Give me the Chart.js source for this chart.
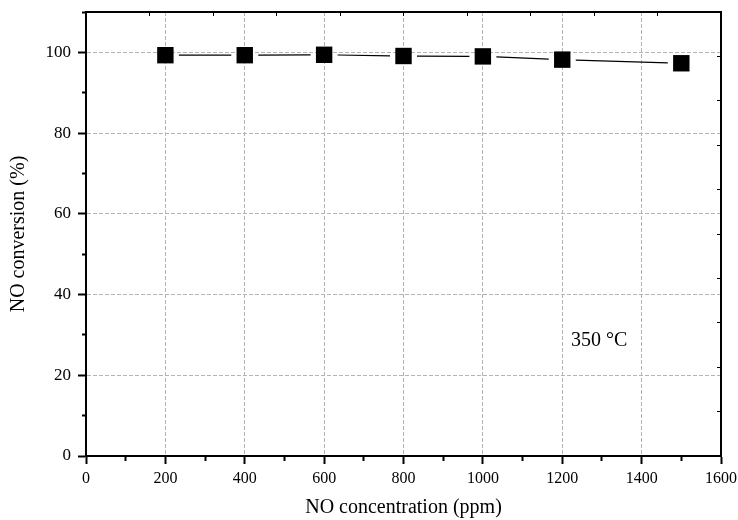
<!DOCTYPE html>
<html>
<head>
<meta charset="utf-8">
<script src="https://cdn.jsdelivr.net/npm/chart.js@4.4.1/dist/chart.umd.min.js"></script>
<style>
  html, body { margin: 0; padding: 0; background: #fff; }
</style>
</head>
<body>
<canvas id="myChart" width="738" height="520"></canvas>
<script>
// NO concentration (ppm) and NO conversion (%) at 350 °C
const concentrations = [200, 400, 600, 800, 1000, 1200, 1500];
const conversions = [99.3, 99.3, 99.4, 99.1, 99.0, 98.2, 97.3];

// labelled ticks
const xTickLabels = [0, 200, 400, 600, 800, 1000, 1200, 1400, 1600];
const yTickLabels = [0, 20, 40, 60, 80, 100];

const serif = "'Liberation Serif', 'Times New Roman', serif";

let points = concentrations.map((c, i) => ({ x: c, y: conversions[i] }));

// is the tick a labelled (major) one?
function isMajor(list, ctx) {
  return ctx.tick && list.includes(ctx.tick.value);
}

// line between the markers, with a gap near each square (Origin style)
const gapLines = {
  id: "gapLines",
  beforeDatasetsDraw(chart) {
    let meta = chart.getDatasetMeta(0);
    let ctx = chart.ctx;
    let gap = 13.5;
    ctx.save();
    ctx.strokeStyle = "#000";
    ctx.lineWidth = 1.2;
    for (let i = 0; i < meta.data.length - 1; i++) {
      let a = meta.data[i], b = meta.data[i + 1];
      let dx = b.x - a.x, dy = b.y - a.y;
      let len = Math.sqrt(dx * dx + dy * dy);
      let ux = dx / len, uy = dy / len;
      ctx.beginPath();
      ctx.moveTo(a.x + ux * gap, a.y + uy * gap);
      ctx.lineTo(b.x - ux * gap, b.y - uy * gap);
      ctx.stroke();
    }
    ctx.restore();
  },
};

// temperature label inside the plot
const tempLabel = {
  id: "tempLabel",
  afterDraw(chart) {
    let ctx = chart.ctx;
    ctx.save();
    ctx.font = "20px " + serif;
    ctx.fillStyle = "#000";
    ctx.textAlign = "left";
    ctx.textBaseline = "middle";
    ctx.fillText("350 °C", chart.scales.x.getPixelForValue(1222), chart.scales.y.getPixelForValue(28.5));
    ctx.restore();
  },
};

new Chart(document.getElementById("myChart").getContext("2d"), {
  type: "scatter",
  data: {
    datasets: [
      {
        data: points,
        pointStyle: "rect",
        pointRadius: 11.6,
        pointHoverRadius: 11.6,
        backgroundColor: "#000",
        borderColor: "#000",
        borderWidth: 0,
        showLine: false,
      },
    ],
  },
  options: {
    responsive: false,
    animation: false,
    devicePixelRatio: 1,
    layout: { padding: { top: 12, right: 17, left: 0, bottom: 0 } },
    plugins: { legend: { display: false }, tooltip: { enabled: false } },
    scales: {
      x: {
        type: "linear",
        position: "bottom",
        min: 0,
        max: 1600,
        afterFit: (s) => {
          s.height = 64;
          s.paddingLeft = 0;
          s.paddingRight = 0;
        },
        ticks: {
          stepSize: 100,
          autoSkip: false,
          maxRotation: 0,
          padding: 5,
          color: "#000",
          font: { family: serif, size: 16 },
          callback: (v) => (xTickLabels.includes(v) ? String(v) : ""),
        },
        grid: {
          color: (c) => (isMajor(xTickLabels, c) ? "#b4b4b4" : "rgba(0,0,0,0)"),
          lineWidth: 1,
          tickLength: 8,
          tickWidth: 2,
          tickColor: "#000",
          tickBorderDash: (c) => (isMajor(xTickLabels, c) ? [] : [4, 100]),
        },
        border: { display: true, color: "#000", width: 2, dash: [4, 2] },
        title: {
          display: true,
          text: "NO concentration (ppm)",
          color: "#000",
          font: { family: serif, size: 20 },
          padding: { top: 0, bottom: 0 },
        },
      },
      y: {
        type: "linear",
        position: "left",
        min: 0,
        max: 110,
        afterFit: (s) => {
          s.width = 86;
          s.paddingTop = 0;
          s.paddingBottom = 0;
        },
        ticks: {
          stepSize: 10,
          autoSkip: false,
          padding: 7,
          color: "#000",
          font: { family: serif, size: 17 },
          callback: (v) => (yTickLabels.includes(v) ? String(v) : ""),
        },
        grid: {
          color: (c) => (isMajor(yTickLabels, c) ? "#b4b4b4" : "rgba(0,0,0,0)"),
          lineWidth: 1,
          tickLength: 8,
          tickWidth: 2,
          tickColor: "#000",
          tickBorderDash: (c) => (isMajor(yTickLabels, c) ? [] : [0, 4, 4, 100]),
        },
        border: { display: true, color: "#000", width: 2, dash: [4, 2] },
        title: {
          display: true,
          text: "NO conversion (%)",
          color: "#000",
          font: { family: serif, size: 20 },
          padding: { top: 7, bottom: 0 },
        },
      },
      // frame on top with small inward ticks
      x2: {
        type: "linear",
        position: "top",
        min: 0,
        max: 1600,
        afterFit: (s) => {
          s.height = 0;
          s.paddingLeft = 0;
          s.paddingRight = 0;
        },
        ticks: { display: false, stepSize: 160 },
        grid: { drawTicks: false, color: "#000", lineWidth: 1 },
        border: { display: true, color: "#000", width: 2, dash: [3, 2000] },
      },
      // frame on the right with small inward ticks
      y2: {
        type: "linear",
        position: "right",
        min: 0,
        max: 110,
        afterFit: (s) => {
          s.width = 0;
          s.paddingTop = 0;
          s.paddingBottom = 0;
        },
        ticks: { display: false, stepSize: 11 },
        grid: { drawTicks: false, color: "#000", lineWidth: 1 },
        border: {
          display: true,
          color: "#000",
          width: 2,
          dash: (c) => {
            let a = c.chart.chartArea;
            if (!a) return [];
            return [0, a.right - a.left - 4, 3, 2000];
          },
        },
      },
    },
  },
  plugins: [gapLines, tempLabel],
});
</script>
</body>
</html>
